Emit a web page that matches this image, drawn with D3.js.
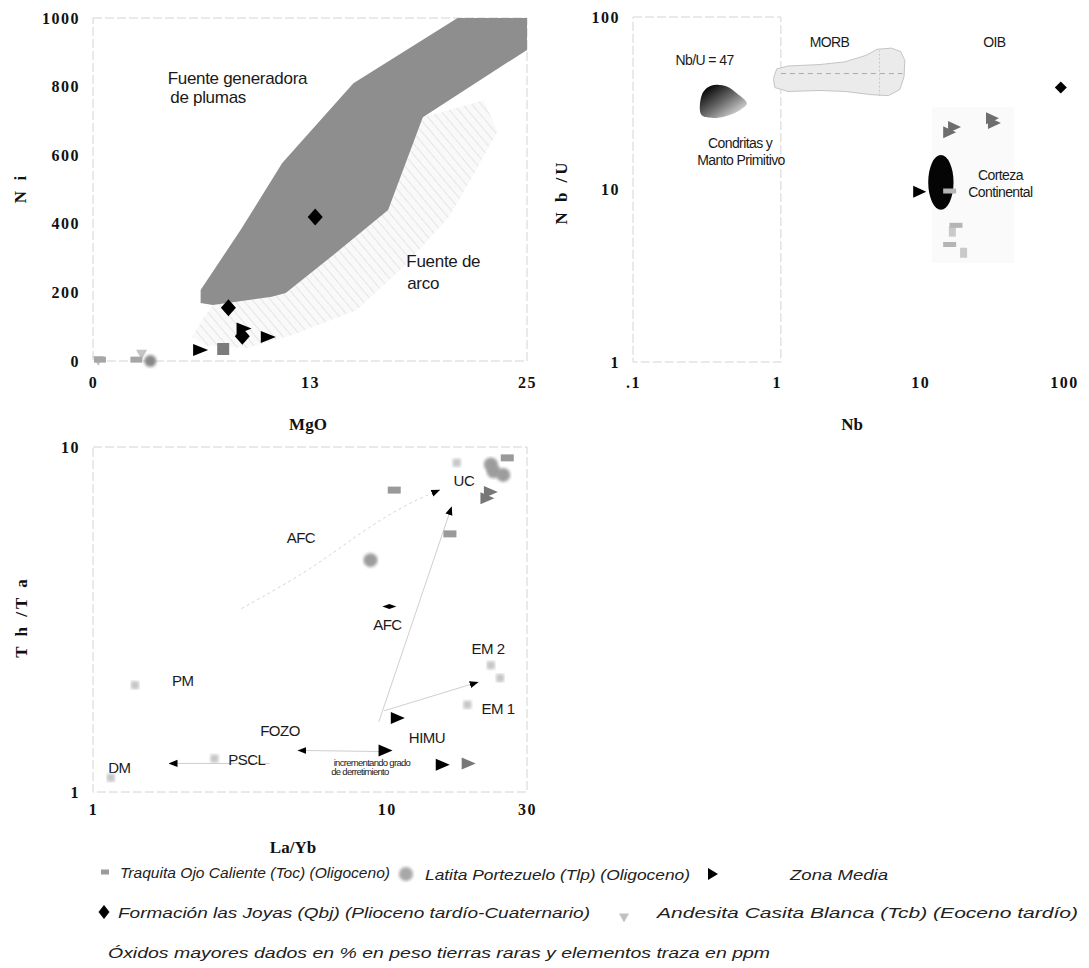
<!DOCTYPE html>
<html><head><meta charset="utf-8">
<script src="https://cdn.jsdelivr.net/npm/d3@7"></script>
<style>body{margin:0;background:#fff} svg{display:block}</style>
</head><body>
<svg id="c" width="1089" height="968"></svg>
<script>
// ================= DATA =================
// Panel 1 : Ni vs MgO
const p1XTicks = [0, 12.5, 25];
const p1XTickLabels = ["0", "13", "25"];
const p1YTicks = [0, 200, 400, 600, 800, 1000];
const p1PlumeField = [[6.2,169],[6.2,207],[8.5,382],[10.9,577],[15.0,810],[21.0,1000],[25,1000],[25,907],[19.0,711],[17.0,440],[13.7,303],[11.1,198],[10.3,187],[6.9,163]];
const p1ArcField = [[6.9,163],[6.3,120],[5.7,70],[6.5,45],[8.9,38],[11.5,76],[15.2,149],[18.0,280],[20.5,420],[22.0,550],[23.3,670],[22.5,760],[19.0,711],[17.0,440],[13.7,303],[11.1,198],[10.3,187]];
const p1Traquita = [[0.4,4],[2.5,4],[7.5,35]];
const p1Latita = [[3.3,0]];
const p1Andesita = [[0.3,0],[2.8,18]];
const p1ZonaMedia = [[6.2,32],[8.7,95],[10.1,70]];
const p1Joyas = [[12.8,420],[7.8,155],[8.6,72]];
const p1Labels = [["Fuente generadora",4.3,825],["de plumas",4.45,767],["Fuente de",18.05,289],["arco",18.1,227]];

// Panel 2 : Nb/U vs Nb
const p2XTicks = [0.1, 1, 10, 100];
const p2XTickLabels = [".1", "1", "10", "100"];
const p2YTicks = [1, 10, 100];
const p2Chondrite = [[0.30,27],[0.30,35],[0.33,39],[0.38,40.5],[0.45,39.5],[0.53,36],[0.62,31.5],[0.56,29],[0.47,27],[0.38,26],[0.30,26]];
const p2Morb = [[0.95,44],[1.0,50],[1.2,52],[2,53],[3,55],[4.2,60],[5,65],[6.3,66],[7.3,63],[7.8,56],[7.7,45],[7.2,38],[6,35],[4.5,35.5],[3,37],[2,37.5],[1.2,37],[0.97,39]];
const p2MorbNbU = 47;
const p2MorbLineNb = [1.07, 7.5];
const p2MorbDivideNb = 5.2;
const p2MorbDivideNbU = [35, 64];
const p2CrustCenter = [13.9, 11.0];
const p2CrustNbRange = [11.4, 17.1];
const p2CrustNbURange = [7.6, 15.8];
const p2Traquita = [[16.0,9.8],[17.7,6.2],[16.0,4.8]];
const p2Andesita = [[16.7,5.7],[20.0,4.3]];
const p2ZonaMedia = [[9.9,9.7]];
const p2ZonaMediaFaded = [[17.3,23.0],[16.0,21.5],[31.8,25.9],[32.8,24.3]];
const p2Joyas = [[95,39]];
const p2Labels = [["Nb/U = 47",0.315,56.4],["MORB",2.33,71.7],["OIB",32.8,71.7],["Condritas y",0.557,18.6],["Manto Primitivo",0.565,14.8],["Corteza",36.1,12.1],["Continental",36.1,9.67]];

// Panel 3 : Th/Ta vs La/Yb
const p3XTicks = [1, 10, 30];
const p3YTicks = [1, 10];
const p3Traquita = [[10.6,7.5],[16.4,5.6],[25.7,9.3]];
const p3Latita = [[8.8,4.7],[22.6,8.9],[24.9,8.3],[23.1,8.5]];
const p3ReservoirMarks = [[1.39,2.04],[1.15,1.1],[2.59,1.25],[22.6,2.33],[24.3,2.14],[18.8,1.79],[17.3,9.0]];
const p3ZonaMedia = [[10.9,1.64],[9.9,1.32],[15.5,1.2]];
const p3ZonaMediaFaded = [[19.0,1.21],[22.6,7.4],[22.0,7.1]];
const p3AfcMark = [[10.2,3.45]];
const p3ArrowFrom = [[9.4,1.6],[9.8,1.72],[9.5,1.31],[4.0,1.21]];
const p3ArrowTo = [[16.6,6.7],[20.4,2.08],[5.0,1.32],[1.82,1.21]];
const p3AfcCurve = [[3.2,3.4],[5.5,4.4],[8.0,5.6],[11.5,6.8],[15.1,7.5]];
const p3Labels = [["UC",18.3,8.0],["AFC",5.1,5.45],["AFC",10.05,3.05],["EM 2",22.1,2.61],["PM",2.02,2.11],["EM 1",23.9,1.75],["FOZO",4.33,1.51],["HIMU",13.7,1.44],["PSCL",3.34,1.24],["DM",1.23,1.18]];
const p3SmallLabels = [["incrementando grado",8.9,1.22],["de derretimiento",8.1,1.15]];

// Legend
const legendLabels = ["Traquita Ojo Caliente (Toc) (Oligoceno)","Latita Portezuelo (Tlp) (Oligoceno)","Zona Media","Formación las Joyas (Qbj) (Plioceno tardío-Cuaternario)","Andesita Casita Blanca (Tcb) (Eoceno tardío)"];
const noteText = "Óxidos mayores dados en % en peso  tierras raras y elementos traza en ppm";

// ================= DRAWING =================
const svg = d3.select("#c");
const defs = svg.append("defs");
const hatch = defs.append("pattern").attr("id","hatch").attr("width",7).attr("height",7)
  .attr("patternUnits","userSpaceOnUse").attr("patternTransform","rotate(-40)");
hatch.append("rect").attr("width",7).attr("height",7).attr("fill","#f9f9f9");
hatch.append("line").attr("x1",0).attr("y1",0).attr("x2",0).attr("y2",7).attr("stroke","#d2d2d2").attr("stroke-width",1);
const grad = defs.append("linearGradient").attr("id","chond").attr("x1","0").attr("y1","0").attr("x2","1").attr("y2","1");
grad.append("stop").attr("offset","0.1").attr("stop-color","#000");
grad.append("stop").attr("offset","0.5").attr("stop-color","#6a6a6a");
grad.append("stop").attr("offset","0.95").attr("stop-color","#f2f2f2");
defs.append("filter").attr("id","blur").append("feGaussianBlur").attr("stdDeviation",1.6);
defs.append("filter").attr("id","blur2").append("feGaussianBlur").attr("stdDeviation",0.7);
defs.append("marker").attr("id","ah").attr("viewBox","0 0 10 10").attr("refX",9).attr("refY",5)
  .attr("markerWidth",9).attr("markerHeight",9).attr("markerUnits","userSpaceOnUse").attr("orient","auto")
  .append("path").attr("d","M0,1L10,5L0,9Z").attr("fill","#000");

const shape = {
  rect:(w,h)=>`M${-w/2},${-h/2}h${w}v${h}h${-w}Z`,
  triR:(w,h)=>`M${-w/2},${-h/2}L${w/2},0L${-w/2},${h/2}Z`,
  triD:(w,h)=>`M${-w/2},${-h/2}L${w/2},${-h/2}L0,${h/2}Z`,
  diamond:(w,h)=>`M0,${-h/2}L${w/2},0L0,${h/2}L${-w/2},0Z`
};
function marks(g, data, xs, ys, d, fill, filter){
  const s = g.append("g").selectAll("path").data(data).join("path")
    .attr("d", d).attr("fill", fill)
    .attr("transform", p => `translate(${xs(p[0])},${ys(p[1])})`);
  if (filter) s.attr("filter", `url(#${filter})`);
}
const serif = "'Liberation Serif','Times New Roman',serif";
const sans = "'Liberation Sans',Arial,sans-serif";
function styleAxis(g){
  g.select(".domain").remove();
  g.selectAll("line").remove();
  g.selectAll("text").attr("font-family",serif).attr("font-weight","bold")
    .attr("font-size",16).attr("fill","#111").attr("letter-spacing",1.5);
}
function frame(x0,y0,x1,y1){
  svg.append("rect").attr("x",x0).attr("y",y0).attr("width",x1-x0).attr("height",y1-y0)
    .attr("fill","none").attr("stroke","#d4d4d4").attr("stroke-width",1).attr("stroke-dasharray","9,3");
}
function rotLabel(txt,x,y){
  svg.append("text").attr("transform",`translate(${x},${y}) rotate(-90)`).attr("text-anchor","middle")
    .attr("dominant-baseline","central").attr("font-family",serif).attr("font-weight","bold")
    .attr("font-size",17).attr("letter-spacing",3).attr("fill","#111").text(txt);
}
function axLabel(txt,x,y){
  svg.append("text").attr("x",x).attr("y",y).attr("text-anchor","middle").attr("dominant-baseline","central")
    .attr("font-family",serif).attr("font-weight","bold").attr("font-size",17).attr("fill","#111").text(txt);
}
function labels(g, arr, xs, ys, size, anchor, spacing){
  g.append("g").selectAll("text").data(arr).join("text")
    .attr("x",d=>xs(d[1])).attr("y",d=>ys(d[2])).attr("text-anchor",anchor)
    .attr("dominant-baseline","central").attr("font-family",sans).attr("font-size",size)
    .attr("letter-spacing",spacing).attr("fill","#1a1a1a").text(d=>d[0]);
}

// ---------- Panel 1 ----------
const x1 = d3.scaleLinear().domain([0,25]).range([93,527]);
const y1 = d3.scaleLinear().domain([0,1000]).range([361,18]);
frame(93,18,527,361);
const g1 = svg.append("g");
const line1 = d3.line().x(d=>x1(d[0])).y(d=>y1(d[1]));
g1.append("path").attr("d", line1(p1ArcField)+"Z").attr("fill","url(#hatch)");
g1.append("path").attr("d", line1(p1PlumeField)+"Z").attr("fill","#8e8e8e");
labels(g1, p1Labels, x1, y1, 17, "start", -0.3);
marks(g1, p1Andesita, x1, y1, shape.triD(11,10), "#c4c4c4", "blur2");
marks(g1, p1Traquita.slice(0,2), x1, y1, shape.rect(12,6), "#a6a6a6", "blur2");
marks(g1, p1Traquita.slice(2), x1, y1, shape.rect(12,12), "#7c7c7c", "blur2");
marks(g1, p1Latita, x1, y1, "M0,0m-6,0a6,6 0 1,0 12,0a6,6 0 1,0 -12,0", "#888", "blur");
marks(g1, p1ZonaMedia, x1, y1, shape.triR(15,12), "#000");
marks(g1, p1Joyas, x1, y1, shape.diamond(15,17), "#000");
svg.append("g").attr("transform","translate(93,0)")
  .call(d3.axisLeft(y1).tickValues(p1YTicks).tickFormat(d3.format("d")).tickSize(0).tickPadding(13)).call(styleAxis);
svg.append("g").attr("transform","translate(0,361)")
  .call(d3.axisBottom(x1).tickValues(p1XTicks).tickFormat((d,i)=>p1XTickLabels[i]).tickSize(0).tickPadding(16)).call(styleAxis);
rotLabel("N i", 20, 188);
axLabel("MgO", 308, 424);

// ---------- Panel 2 ----------
const x2 = d3.scaleLog().domain([0.1,100]).range([633,1064]);
const y2 = d3.scaleLog().domain([1,100]).range([362,17]);
frame(633,17,x2(1.07),362);
const g2 = svg.append("g");
const line2 = d3.line().x(d=>x2(d[0])).y(d=>y2(d[1]));
g2.append("rect").attr("x",x2(12)).attr("y",y2(30)).attr("width",x2(45)-x2(12)).attr("height",y2(3.75)-y2(30)).attr("fill","#fafafa");
g2.append("path").attr("d", line2(p2Morb)+"Z").attr("fill","#ebebeb").attr("stroke","#c4c4c4").attr("stroke-width",1);
g2.append("line").attr("x1",x2(p2MorbLineNb[0])).attr("x2",x2(p2MorbLineNb[1])).attr("y1",y2(p2MorbNbU)).attr("y2",y2(p2MorbNbU))
  .attr("stroke","#aaa").attr("stroke-dasharray","5,4");
g2.append("line").attr("x1",x2(p2MorbDivideNb)).attr("x2",x2(p2MorbDivideNb)).attr("y1",y2(p2MorbDivideNbU[0])).attr("y2",y2(p2MorbDivideNbU[1]))
  .attr("stroke","#c8c8c8").attr("stroke-dasharray","2,2");
g2.append("path").attr("d", d3.line().curve(d3.curveCatmullRomClosed).x(d=>x2(d[0])).y(d=>y2(d[1]))(p2Chondrite.slice(0,-1))).attr("fill","url(#chond)");
g2.append("ellipse").attr("cx",x2(p2CrustCenter[0])).attr("cy",y2(p2CrustCenter[1]))
  .attr("rx",(x2(p2CrustNbRange[1])-x2(p2CrustNbRange[0]))/2).attr("ry",(y2(p2CrustNbURange[0])-y2(p2CrustNbURange[1]))/2).attr("fill","#050505");
labels(g2, p2Labels, x2, y2, 14, "middle", -0.6);
marks(g2, p2ZonaMediaFaded, x2, y2, shape.triR(13,12), "#6e6e6e", "blur2");
marks(g2, p2Andesita, x2, y2, shape.rect(7,10), "#c9c9c9", "blur2");
marks(g2, p2Traquita, x2, y2, shape.rect(13,5), "#b5b5b5", "blur2");
marks(g2, p2ZonaMedia, x2, y2, shape.triR(13,12), "#000");
marks(g2, p2Joyas, x2, y2, shape.diamond(12,12), "#000");
svg.append("g").attr("transform","translate(633,0)")
  .call(d3.axisLeft(y2).tickValues(p2YTicks).tickFormat(d3.format("d")).tickSize(0).tickPadding(13)).call(styleAxis);
svg.append("g").attr("transform","translate(0,362)")
  .call(d3.axisBottom(x2).tickValues(p2XTicks).tickFormat((d,i)=>p2XTickLabels[i]).tickSize(0).tickPadding(15)).call(styleAxis);
rotLabel("N b /U", 561, 192);
axLabel("Nb", 852, 424);

// ---------- Panel 3 ----------
const x3 = d3.scaleLog().domain([1,30]).range([93,527]);
const y3 = d3.scaleLog().domain([1,10]).range([792,447]);
frame(93,447,527,792);
const g3 = svg.append("g");
g3.append("path").attr("d", d3.line().curve(d3.curveBasis).x(d=>x3(d[0])).y(d=>y3(d[1]))(p3AfcCurve))
  .attr("fill","none").attr("stroke","#d6d6d6").attr("stroke-dasharray","3,3").attr("marker-end","url(#ah)");
g3.append("g").selectAll("line").data(p3ArrowFrom).join("line")
  .attr("x1",d=>x3(d[0])).attr("y1",d=>y3(d[1]))
  .attr("x2",(d,i)=>x3(p3ArrowTo[i][0])).attr("y2",(d,i)=>y3(p3ArrowTo[i][1]))
  .attr("stroke","#cfcfcf").attr("stroke-width",1).attr("marker-end","url(#ah)");
labels(g3, p3Labels, x3, y3, 15, "middle", -0.5);
labels(g3, p3SmallLabels, x3, y3, 9.5, "middle", -0.7);
marks(g3, p3ReservoirMarks, x3, y3, shape.rect(8,8), "#c6c6c6", "blur");
marks(g3, p3Traquita, x3, y3, shape.rect(13,7), "#9a9a9a", "blur2");
marks(g3, p3Latita, x3, y3, "M0,0m-7,0a7,7 0 1,0 14,0a7,7 0 1,0 -14,0", "#9c9c9c", "blur");
marks(g3, p3ZonaMediaFaded, x3, y3, shape.triR(14,12), "#777", "blur2");
marks(g3, p3ZonaMedia, x3, y3, shape.triR(14,12), "#000");
marks(g3, p3AfcMark, x3, y3, shape.diamond(14,5), "#000");
svg.append("g").attr("transform","translate(93,0)")
  .call(d3.axisLeft(y3).tickValues(p3YTicks).tickFormat(d3.format("d")).tickSize(0).tickPadding(13)).call(styleAxis);
svg.append("g").attr("transform","translate(0,792)")
  .call(d3.axisBottom(x3).tickValues(p3XTicks).tickFormat(d3.format("d")).tickSize(0).tickPadding(12)).call(styleAxis);
rotLabel("T h /T a", 21, 617);
axLabel("La/Yb", 293, 847);

// ---------- Legend ----------
const lg = svg.append("g");
const legendFont = "'Liberation Sans Narrow','Liberation Sans',Arial,sans-serif";
const legendItems = [
  {sym:shape.rect(8,5), fill:"#9a9a9a", sx:105, sy:872, tx:120, w:270, filter:"blur2"},
  {sym:"M0,0m-7,0a7,7 0 1,0 14,0a7,7 0 1,0 -14,0", fill:"#a8a8a8", sx:406, sy:874, tx:425, w:265, filter:"blur"},
  {sym:shape.triR(10,12), fill:"#000", sx:713, sy:874, tx:790, w:98},
  {sym:shape.diamond(11,14), fill:"#000", sx:104, sy:912, tx:118, w:472},
  {sym:shape.triD(10,9), fill:"#c2c2c2", sx:624, sy:918, tx:657, w:421, filter:"blur2"}
];
legendItems.forEach((it,i)=>{
  const p = lg.append("path").attr("d",it.sym).attr("fill",it.fill).attr("transform",`translate(${it.sx},${it.sy})`);
  if (it.filter) p.attr("filter",`url(#${it.filter})`);
  lg.append("text").attr("x",it.tx).attr("y",it.sy - (i===4?6:0)).attr("dominant-baseline","central")
    .attr("font-family",legendFont).attr("font-style","italic").attr("font-size",15).attr("fill","#222")
    .attr("textLength",it.w).attr("lengthAdjust","spacingAndGlyphs").text(legendLabels[i]);
});
lg.append("text").attr("x",108).attr("y",952).attr("dominant-baseline","central")
  .attr("font-family",legendFont).attr("font-style","italic").attr("font-size",15).attr("fill","#222")
  .attr("textLength",662).attr("lengthAdjust","spacingAndGlyphs").text(noteText);
</script>
</body></html>
